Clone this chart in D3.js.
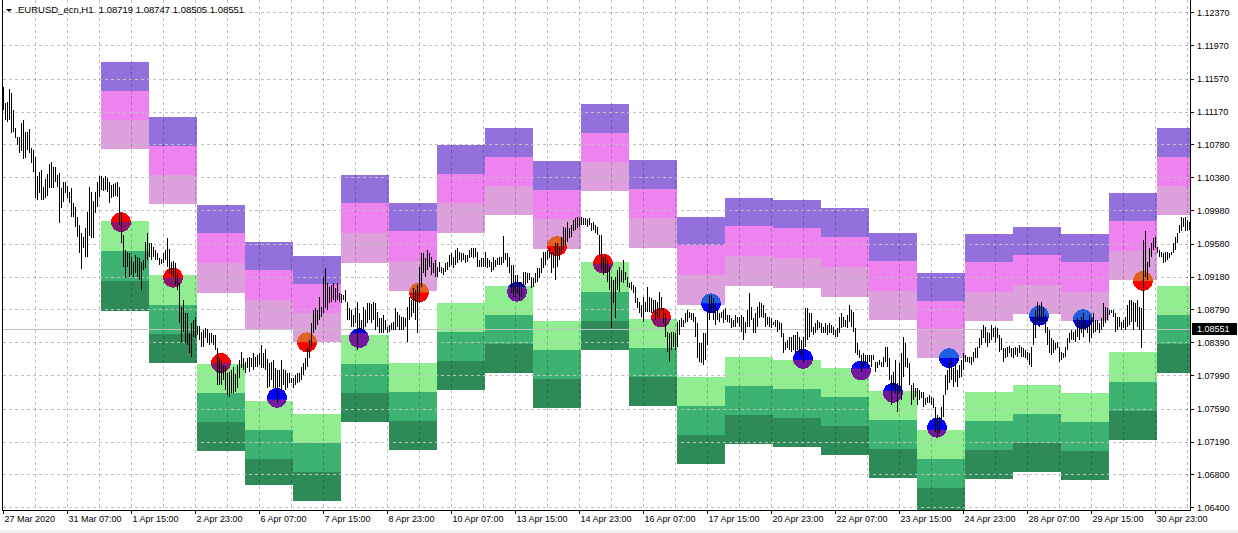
<!DOCTYPE html>
<html><head><meta charset="utf-8">
<script src="https://cdn.jsdelivr.net/npm/d3@7"></script>
<style>html,body{margin:0;padding:0;background:#fff;overflow:hidden}svg{display:block}text{font-family:"Liberation Sans",Arial,sans-serif}</style>
</head><body><svg id="c" width="1238" height="533"></svg>
<script>
const chartTitle = "EURUSD_ecn,H1  1.08719 1.08747 1.08505 1.08551";
const lastPrice = 1.08551;
const priceTicks = [1.0640,1.0680,1.0719,1.0759,1.0799,1.0839,1.0879,1.0918,1.0958,1.0998,1.1038,1.1078,1.1117,1.1157,1.1197,1.1237];
const timeTickBars = [0,32,64,96,128,160,192,224,256,288,320,352,384,416,448,480,512,544,576];
const timeTickLabels = ["27 Mar 2020","31 Mar 07:00","1 Apr 15:00","2 Apr 23:00","6 Apr 07:00","7 Apr 15:00","8 Apr 23:00","10 Apr 07:00","13 Apr 15:00","14 Apr 23:00","16 Apr 07:00","17 Apr 15:00","20 Apr 23:00","22 Apr 07:00","23 Apr 15:00","24 Apr 23:00","28 Apr 07:00","29 Apr 15:00","30 Apr 23:00"];

const barHigh = [
1.1147,1.1128,1.1129,1.1145,1.1140,1.1119,1.1097,1.1087,1.1087,1.1104,
1.1107,1.1093,1.1093,1.1096,1.1073,1.1071,1.1062,1.1039,1.1044,1.1047,
1.1026,1.1036,1.1042,1.1054,1.1056,1.1050,1.1050,1.1041,1.1043,1.1025,
1.1032,1.1032,1.1028,1.1020,1.1025,1.1007,1.1002,1.0990,1.0980,1.0971,
1.0966,1.0977,1.0996,1.1026,1.1020,1.1009,1.1020,1.1032,1.1039,1.1040,
1.1037,1.1039,1.1037,1.1032,1.1029,1.1030,1.1031,1.1032,1.1026,1.0995,
1.0968,1.0950,1.0948,1.0947,1.0942,1.0936,1.0944,1.0942,1.0941,1.0936,
1.0938,1.0960,1.0971,1.0959,1.0959,1.0954,1.0950,1.0947,1.0941,1.0940,
1.0947,1.0950,1.0965,1.0952,1.0936,1.0937,1.0935,1.0923,1.0911,1.0882,
1.0890,1.0874,1.0874,1.0850,1.0862,1.0866,1.0870,1.0859,1.0859,1.0851,
1.0854,1.0856,1.0855,1.0850,1.0850,1.0848,1.0848,1.0832,1.0820,1.0818,
1.0810,1.0810,1.0802,1.0803,1.0806,1.0809,1.0801,1.0812,1.0818,1.0827,
1.0820,1.0815,1.0820,1.0821,1.0820,1.0826,1.0821,1.0824,1.0826,1.0836,
1.0826,1.0831,1.0819,1.0814,1.0815,1.0818,1.0808,1.0806,1.0806,1.0818,
1.0807,1.0806,1.0802,1.0802,1.0796,1.0796,1.0800,1.0802,1.0802,1.0809,
1.0814,1.0820,1.0832,1.0842,1.0862,1.0878,1.0880,1.0878,1.0894,1.0882,
1.0918,1.0929,1.0911,1.0906,1.0908,1.0911,1.0905,1.0911,1.0898,1.0897,
1.0896,1.0902,1.0888,1.0880,1.0878,1.0872,1.0880,1.0888,1.0874,1.0866,
1.0882,1.0878,1.0886,1.0886,1.0885,1.0888,1.0886,1.0876,1.0868,1.0868,
1.0872,1.0866,1.0858,1.0860,1.0862,1.0864,1.0880,1.0876,1.0872,1.0870,
1.0870,1.0868,1.0882,1.0894,1.0890,1.0905,1.0902,1.0908,1.0930,1.0947,
1.0947,1.0941,1.0950,1.0947,1.0942,1.0935,1.0938,1.0930,1.0936,1.0930,
1.0929,1.0935,1.0936,1.0944,1.0947,1.0942,1.0950,1.0953,1.0948,1.0947,
1.0947,1.0944,1.0944,1.0950,1.0953,1.0953,1.0953,1.0948,1.0938,1.0941,
1.0941,1.0948,1.0941,1.0938,1.0936,1.0942,1.0938,1.0941,1.0942,1.0942,
1.0967,1.0947,1.0947,1.0942,1.0932,1.0932,1.0920,1.0920,1.0912,1.0912,
1.0924,1.0924,1.0923,1.0923,1.0918,1.0917,1.0923,1.0929,1.0929,1.0941,
1.0948,1.0948,1.0950,1.0953,1.0948,1.0948,1.0959,1.0959,1.0954,1.0966,
1.0978,1.0977,1.0984,1.0977,1.0980,1.0987,1.0989,1.0990,1.0989,1.0990,
1.0989,1.0989,1.0988,1.0989,1.0983,1.0984,1.0980,1.0978,1.0968,1.0968,
1.0942,1.0944,1.0938,1.0930,1.0918,1.0914,1.0918,1.0926,1.0930,1.0926,
1.0938,1.0924,1.0918,1.0911,1.0912,1.0908,1.0906,1.0892,1.0888,1.0884,
1.0894,1.0888,1.0906,1.0894,1.0892,1.0890,1.0890,1.0888,1.0900,1.0894,
1.0880,1.0874,1.0851,1.0850,1.0851,1.0851,1.0850,1.0864,1.0866,1.0868,
1.0866,1.0874,1.0878,1.0876,1.0874,1.0874,1.0870,1.0862,1.0838,1.0838,
1.0850,1.0850,1.0874,1.0896,1.0896,1.0892,1.0886,1.0878,1.0874,1.0876,
1.0878,1.0880,1.0872,1.0872,1.0868,1.0866,1.0872,1.0870,1.0870,1.0872,
1.0870,1.0864,1.0878,1.0898,1.0882,1.0868,1.0874,1.0882,1.0888,1.0886,
1.0884,1.0874,1.0870,1.0870,1.0868,1.0864,1.0866,1.0866,1.0864,1.0862,
1.0850,1.0839,1.0842,1.0845,1.0845,1.0848,1.0848,1.0851,1.0845,1.0842,
1.0845,1.0880,1.0880,1.0874,1.0874,1.0858,1.0862,1.0866,1.0864,1.0862,
1.0858,1.0862,1.0860,1.0862,1.0860,1.0858,1.0854,1.0856,1.0870,1.0874,
1.0870,1.0866,1.0872,1.0884,1.0878,1.0876,1.0856,1.0838,1.0830,1.0824,
1.0826,1.0824,1.0824,1.0824,1.0824,1.0824,1.0815,1.0815,1.0818,1.0815,
1.0821,1.0833,1.0833,1.0820,1.0800,1.0803,1.0818,1.0790,1.0814,1.0826,
1.0845,1.0838,1.0820,1.0814,1.0788,1.0790,1.0784,1.0784,1.0782,1.0779,
1.0779,1.0772,1.0773,1.0775,1.0773,1.0772,1.0761,1.0751,1.0749,1.0761,
1.0775,1.0800,1.0806,1.0814,1.0820,1.0808,1.0814,1.0806,1.0812,1.0818,
1.0826,1.0824,1.0821,1.0821,1.0821,1.0827,1.0832,1.0833,1.0844,1.0854,
1.0860,1.0858,1.0851,1.0850,1.0860,1.0856,1.0858,1.0856,1.0848,1.0844,
1.0832,1.0832,1.0833,1.0835,1.0832,1.0832,1.0833,1.0832,1.0836,1.0833,
1.0832,1.0830,1.0827,1.0826,1.0833,1.0870,1.0878,1.0888,1.0884,1.0888,
1.0882,1.0872,1.0858,1.0854,1.0844,1.0842,1.0838,1.0839,1.0833,1.0827,
1.0826,1.0833,1.0844,1.0850,1.0854,1.0851,1.0854,1.0868,1.0866,1.0870,
1.0874,1.0866,1.0862,1.0872,1.0868,1.0874,1.0866,1.0866,1.0862,1.0868,
1.0886,1.0882,1.0880,1.0878,1.0878,1.0878,1.0874,1.0870,1.0870,1.0864,
1.0866,1.0870,1.0884,1.0890,1.0890,1.0888,1.0886,1.0890,1.0882,1.0880,
1.0962,1.0973,1.0936,1.0953,1.0959,1.0965,1.0966,1.0954,1.0950,1.0948,
1.0947,1.0948,1.0948,1.0947,1.0948,1.0959,1.0966,1.0971,1.0980,1.0990,
1.0989,1.0990,1.0987,1.0984];

const barLow = [
1.1119,1.1107,1.1105,1.1107,1.1091,1.1093,1.1085,1.1077,1.1067,1.1070,
1.1060,1.1061,1.1071,1.1067,1.1055,1.1044,1.1013,1.1011,1.1019,1.1011,
1.1011,1.1013,1.1015,1.1025,1.1025,1.1025,1.1032,1.1026,1.0983,1.1001,
1.1008,1.1019,1.1013,1.1007,1.0990,1.0990,1.0978,1.0966,1.0947,1.0927,
1.0953,1.0942,1.0942,1.0967,1.0965,1.0965,1.0995,1.1002,1.1014,1.1023,
1.1021,1.1023,1.1020,1.1007,1.1013,1.1014,1.1015,1.1014,1.0980,1.0959,
1.0930,1.0917,1.0930,1.0918,1.0920,1.0918,1.0923,1.0918,1.0914,1.0902,
1.0926,1.0929,1.0938,1.0942,1.0938,1.0942,1.0938,1.0938,1.0932,1.0933,
1.0935,1.0938,1.0930,1.0923,1.0920,1.0918,1.0908,1.0902,1.0862,1.0839,
1.0851,1.0838,1.0836,1.0826,1.0821,1.0845,1.0845,1.0848,1.0842,1.0833,
1.0833,1.0844,1.0838,1.0836,1.0838,1.0836,1.0830,1.0788,1.0788,1.0788,
1.0794,1.0782,1.0775,1.0773,1.0778,1.0778,1.0779,1.0784,1.0796,1.0808,
1.0806,1.0802,1.0808,1.0803,1.0809,1.0806,1.0809,1.0809,1.0812,1.0808,
1.0808,1.0806,1.0784,1.0785,1.0794,1.0784,1.0784,1.0767,1.0785,1.0782,
1.0788,1.0782,1.0784,1.0790,1.0790,1.0784,1.0788,1.0790,1.0791,1.0794,
1.0800,1.0806,1.0809,1.0820,1.0832,1.0850,1.0854,1.0860,1.0866,1.0870,
1.0874,1.0880,1.0878,1.0886,1.0888,1.0890,1.0888,1.0890,1.0888,1.0887,
1.0890,1.0888,1.0866,1.0866,1.0858,1.0858,1.0862,1.0830,1.0854,1.0850,
1.0854,1.0858,1.0862,1.0866,1.0862,1.0866,1.0854,1.0858,1.0850,1.0850,
1.0850,1.0854,1.0850,1.0851,1.0854,1.0854,1.0854,1.0858,1.0854,1.0854,
1.0854,1.0858,1.0839,1.0866,1.0870,1.0874,1.0866,1.0850,1.0886,1.0906,
1.0923,1.0918,1.0926,1.0930,1.0920,1.0923,1.0918,1.0918,1.0924,1.0923,
1.0920,1.0924,1.0926,1.0930,1.0932,1.0929,1.0932,1.0935,1.0938,1.0936,
1.0938,1.0935,1.0936,1.0941,1.0942,1.0941,1.0942,1.0930,1.0930,1.0930,
1.0930,1.0930,1.0929,1.0930,1.0924,1.0926,1.0930,1.0932,1.0932,1.0932,
1.0935,1.0938,1.0930,1.0923,1.0898,1.0894,1.0894,1.0898,1.0890,1.0894,
1.0906,1.0908,1.0911,1.0914,1.0905,1.0906,1.0911,1.0912,1.0917,1.0923,
1.0929,1.0932,1.0938,1.0941,1.0923,1.0929,1.0914,1.0930,1.0938,1.0947,
1.0950,1.0956,1.0960,1.0965,1.0966,1.0973,1.0975,1.0977,1.0978,1.0980,
1.0980,1.0980,1.0978,1.0980,1.0973,1.0975,1.0971,1.0968,1.0944,1.0926,
1.0920,1.0923,1.0912,1.0902,1.0856,1.0886,1.0868,1.0902,1.0900,1.0912,
1.0911,1.0914,1.0906,1.0905,1.0902,1.0898,1.0886,1.0880,1.0874,1.0870,
1.0864,1.0876,1.0876,1.0876,1.0874,1.0874,1.0866,1.0870,1.0868,1.0878,
1.0862,1.0845,1.0827,1.0815,1.0830,1.0833,1.0830,1.0833,1.0848,1.0858,
1.0858,1.0862,1.0864,1.0868,1.0866,1.0864,1.0845,1.0820,1.0815,1.0814,
1.0812,1.0818,1.0836,1.0866,1.0874,1.0866,1.0860,1.0866,1.0864,1.0868,
1.0862,1.0866,1.0864,1.0862,1.0856,1.0858,1.0858,1.0862,1.0858,1.0851,
1.0842,1.0850,1.0858,1.0858,1.0866,1.0850,1.0850,1.0858,1.0868,1.0870,
1.0868,1.0858,1.0860,1.0858,1.0856,1.0860,1.0858,1.0851,1.0854,1.0845,
1.0826,1.0830,1.0832,1.0830,1.0827,1.0830,1.0826,1.0830,1.0826,1.0824,
1.0815,1.0833,1.0842,1.0845,1.0851,1.0848,1.0850,1.0854,1.0856,1.0850,
1.0850,1.0850,1.0848,1.0850,1.0850,1.0848,1.0845,1.0845,1.0850,1.0856,
1.0858,1.0858,1.0856,1.0864,1.0858,1.0851,1.0826,1.0824,1.0820,1.0803,
1.0809,1.0814,1.0809,1.0815,1.0809,1.0818,1.0803,1.0808,1.0812,1.0809,
1.0809,1.0815,1.0809,1.0794,1.0763,1.0785,1.0778,1.0755,1.0778,1.0769,
1.0797,1.0809,1.0808,1.0788,1.0763,1.0769,1.0773,1.0763,1.0769,1.0772,
1.0761,1.0763,1.0766,1.0766,1.0763,1.0760,1.0731,1.0725,1.0730,1.0742,
1.0749,1.0775,1.0782,1.0790,1.0794,1.0785,1.0791,1.0785,1.0796,1.0797,
1.0806,1.0815,1.0815,1.0814,1.0812,1.0815,1.0820,1.0820,1.0832,1.0836,
1.0844,1.0838,1.0833,1.0838,1.0842,1.0845,1.0839,1.0844,1.0827,1.0830,
1.0815,1.0820,1.0821,1.0826,1.0821,1.0820,1.0824,1.0821,1.0826,1.0821,
1.0821,1.0820,1.0818,1.0812,1.0809,1.0836,1.0844,1.0864,1.0858,1.0862,
1.0864,1.0850,1.0836,1.0826,1.0824,1.0826,1.0830,1.0832,1.0815,1.0818,
1.0820,1.0821,1.0830,1.0838,1.0842,1.0842,1.0839,1.0845,1.0842,1.0850,
1.0845,1.0854,1.0850,1.0839,1.0844,1.0850,1.0851,1.0854,1.0850,1.0854,
1.0858,1.0862,1.0866,1.0872,1.0874,1.0870,1.0851,1.0854,1.0858,1.0854,
1.0856,1.0854,1.0858,1.0860,1.0864,1.0854,1.0864,1.0858,1.0854,1.0832,
1.0854,1.0918,1.0914,1.0930,1.0942,1.0950,1.0953,1.0947,1.0942,1.0942,
1.0935,1.0936,1.0938,1.0941,1.0944,1.0947,1.0950,1.0959,1.0971,1.0973,
1.0978,1.0973,1.0973,1.0975];

// daily zones: first day starts at bar 49, 24 bars per day
const zoneFirstBar = 49;
const zoneBars = 24;
const upperZones = [
[1.1177,1.1142,1.1107,1.1072],[1.1111,1.1076,1.1041,1.1006],[1.1005,1.0971,1.0935,1.0898],
[1.0960,1.0926,1.0890,1.0855],[1.0943,1.0909,1.0874,1.0839],[1.1041,1.1007,1.0971,1.0935],
[1.1007,1.0973,1.0937,1.0901],[1.1077,1.1042,1.1007,1.0971],[1.1097,1.1062,1.1027,1.0992],
[1.1058,1.1023,1.0988,1.0951],[1.1126,1.1091,1.1056,1.1021],[1.1059,1.1024,1.0989,1.0953],
[1.0990,1.0956,1.0920,1.0884],[1.1013,1.0979,1.0943,1.0907],[1.1011,1.0977,1.0941,1.0905],
[1.1001,1.0966,1.0930,1.0894],[1.0971,1.0937,1.0901,1.0866],[1.0923,1.0889,1.0854,1.0820],
[1.0970,1.0936,1.0900,1.0865],[1.0978,1.0944,1.0908,1.0873],[1.0970,1.0936,1.0900,1.0865],
[1.1019,1.0985,1.0949,1.0914],[1.1097,1.1062,1.1027,1.0992]];
const lowerZones = [
[1.0985,1.0949,1.0913,1.0877],[1.0920,1.0884,1.0849,1.0814],[1.0813,1.0778,1.0743,1.0708],
[1.0768,1.0733,1.0698,1.0667],[1.0753,1.0718,1.0683,1.0648],[1.0848,1.0813,1.0778,1.0743],
[1.0814,1.0779,1.0744,1.0709],[1.0886,1.0851,1.0816,1.0781],[1.0907,1.0872,1.0837,1.0802],
[1.0865,1.0830,1.0795,1.0760],[1.0936,1.0900,1.0865,1.0830],[1.0867,1.0832,1.0797,1.0762],
[1.0797,1.0762,1.0727,1.0692],[1.0821,1.0786,1.0751,1.0716],[1.0818,1.0783,1.0748,1.0713],
[1.0808,1.0773,1.0738,1.0703],[1.0780,1.0745,1.0710,1.0675],[1.0733,1.0698,1.0663,1.0628],
[1.0779,1.0744,1.0709,1.0674],[1.0788,1.0753,1.0718,1.0683],[1.0778,1.0743,1.0708,1.0673],
[1.0827,1.0791,1.0756,1.0721],[1.0907,1.0872,1.0837,1.0802]];
const upperColors = ["#9370DB","#EE82EE","#DDA0DD"];
const lowerColors = ["#90EE90","#3CB371","#2E8B57"];

// signal dots
const dotBar   = [59,85,109,137,152,178,208,257,277,300,329,354,400,429,445,467,473,518,540,570];
const dotPrice = [1.0984,1.0917,1.0814,1.0772,1.0839,1.0844,1.0899,1.0900,1.0955,1.0934,1.0869,1.0886,1.0819,1.0805,1.0778,1.0736,1.0820,1.0871,1.0867,1.0913];
const dotKind  = ["rm","rm","rm","bp","or","bp","or","bp","or","rm","rm","lb","bp","bp","bp","bp","lb","lb","lb","or"];
const dotSplit = [0.5,0.5,0.5,0.58,0.5,0.25,0.5,0.25,0.5,0.5,0.55,0.5,0.55,0.4,0.4,0.6,0.5,0.55,0.55,0.5];
const dotColors = {rm:["#FF0000","#8E1470"], bp:["#0000FF","#7418A0"], or:["#E0601E","#FF0000"], lb:["#2060E0","#0000FF"]};

const W = 1238, H = 533;
const plotL = 3, plotR = 1190, plotT = 0, plotB = 510;
const svg = d3.select("#c");
const x = d3.scaleLinear().domain([0, 593]).range([3, 1189]);
const y = d3.scaleLinear().domain([1.0640, 1.1237]).range([507.3, 12.3]);

svg.append("rect").attr("width", W).attr("height", H).attr("fill", "#fff");
svg.append("rect").attr("x",0).attr("y",530).attr("width",W).attr("height",3).attr("fill","#F0F0F0");

const defs = svg.append("defs");
defs.append("clipPath").attr("id","plot").append("rect")
  .attr("x",plotL).attr("y",plotT).attr("width",plotR-plotL).attr("height",plotB-plotT);

const plot = svg.append("g").attr("clip-path","url(#plot)");

// zones
const zoneG = plot.append("g").attr("shape-rendering","crispEdges");
function drawZones(zones, colors){
  zones.forEach((z, d) => {
    const x0 = Math.round(x(zoneFirstBar + d*zoneBars));
    const x1 = Math.round(x(zoneFirstBar + (d+1)*zoneBars));
    for (let b=0;b<3;b++){
      const ya = Math.round(y(z[b])), yb = Math.round(y(z[b+1]));
      zoneG.append("rect").attr("x",x0).attr("width",x1-x0)
        .attr("y",ya).attr("height",yb-ya).attr("fill",colors[b]);
    }
  });
}
drawZones(upperZones, upperColors);
drawZones(lowerZones, lowerColors);

// grid
const gridG = plot.append("g").attr("shape-rendering","crispEdges");
priceTicks.forEach(t => {
  const yy = Math.round(y(t)) + 0.5;
  gridG.append("line").attr("x1",plotL).attr("x2",plotR).attr("y1",yy).attr("y2",yy)
    .attr("stroke","#C0C0C0").attr("stroke-dasharray","3,3");
});
d3.range(16, 594, 16).forEach(i => {
  const xx = Math.round(x(i)) + 0.5;
  gridG.append("line").attr("x1",xx).attr("x2",xx).attr("y1",plotT).attr("y2",plotB)
    .attr("stroke","#C0C0C0").attr("stroke-dasharray","3,3").style("mix-blend-mode","multiply");
});

// last price line
plot.append("line").attr("x1",plotL).attr("x2",plotR)
  .attr("y1",Math.round(y(lastPrice))+0.5).attr("y2",Math.round(y(lastPrice))+0.5)
  .attr("stroke","#C0C0C0").attr("shape-rendering","crispEdges");

// dots
const dotG = plot.append("g");
dotBar.forEach((b, i) => {
  const cx = x(b), cy = y(dotPrice[i]), r = 10;
  const cols = dotColors[dotKind[i]];
  const sy = cy - r + 2*r*dotSplit[i];
  const id = "dc"+i;
  defs.append("clipPath").attr("id",id).append("rect")
    .attr("x",cx-r-1).attr("y",cy-r-1).attr("width",2*r+2).attr("height",sy-(cy-r-1));
  dotG.append("circle").attr("cx",cx).attr("cy",cy).attr("r",r).attr("fill",cols[1]).attr("shape-rendering","crispEdges");
  dotG.append("circle").attr("cx",cx).attr("cy",cy).attr("r",r).attr("fill",cols[0])
    .attr("clip-path","url(#"+id+")").attr("shape-rendering","crispEdges");
});

// price bars
plot.append("g").attr("shape-rendering","crispEdges").selectAll("rect")
  .data(d3.range(barHigh.length)).join("rect")
  .attr("x", i => Math.round(x(i)))
  .attr("width", 1)
  .attr("y", i => Math.round(y(barHigh[i])))
  .attr("height", i => Math.max(1, Math.round(y(barLow[i])) - Math.round(y(barHigh[i]))))
  .attr("fill", "#000");

// frame
const frame = svg.append("g").attr("shape-rendering","crispEdges").attr("stroke","#000");
frame.append("line").attr("x1",2.5).attr("x2",2.5).attr("y1",0).attr("y2",plotB+1);
frame.append("line").attr("x1",2).attr("x2",plotR+1).attr("y1",plotB+0.5).attr("y2",plotB+0.5);
frame.append("line").attr("x1",plotR+0.5).attr("x2",plotR+0.5).attr("y1",0).attr("y2",plotB+1);

// right price axis
const yAxis = d3.axisRight(y).tickValues(priceTicks).tickSize(4).tickPadding(3)
  .tickFormat(d3.format(".5f"));
const ya = svg.append("g").attr("transform","translate("+plotR+",0)").call(yAxis);
ya.select(".domain").remove();
ya.selectAll("line").attr("stroke","#000").attr("shape-rendering","crispEdges");
ya.selectAll("text").attr("font-family","Liberation Sans, Arial, sans-serif").attr("font-size",9).attr("fill","#000");

// last price label
const ly = Math.round(y(lastPrice));
svg.append("rect").attr("x",1192).attr("y",ly-6).attr("width",45).attr("height",12).attr("fill","#000");
svg.append("text").attr("x",1197).attr("y",ly).attr("dy","0.32em").attr("font-size",9).attr("fill","#fff").text(d3.format(".5f")(lastPrice));

// bottom time axis
const xAxis = d3.axisBottom(x).tickValues(timeTickBars).tickSize(4)
  .tickFormat((d,i) => timeTickLabels[i]);
const xa = svg.append("g").attr("transform","translate(0,"+plotB+")").call(xAxis);
xa.select(".domain").remove();
xa.selectAll("line").attr("stroke","#000").attr("shape-rendering","crispEdges");
xa.selectAll("text").attr("text-anchor","start").attr("x",1).attr("y",12).attr("dy",0)
  .attr("font-family","Liberation Sans, Arial, sans-serif").attr("font-size",9).attr("fill","#000");

// title
svg.append("path").attr("d","M6,9 L12,9 L9,12 Z").attr("fill","#000");
svg.append("text").attr("x",18).attr("y",13).attr("font-size",9.5).attr("fill","#000")
  .style("white-space","pre").attr("xml:space","preserve").text(chartTitle);
</script></body></html>
